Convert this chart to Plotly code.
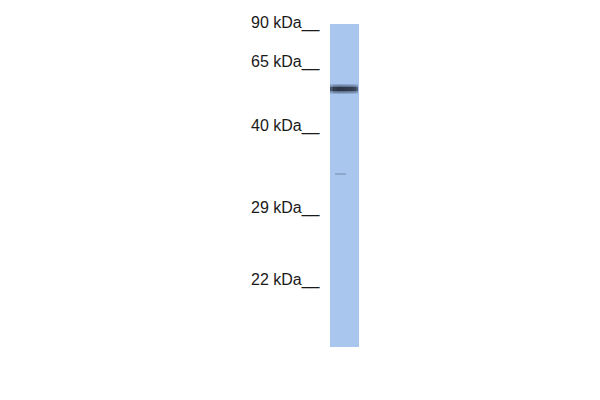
import plotly.graph_objs as go

# marker ladder (kDa) and where each one ran on the membrane (px from top)
marker_kda = [90, 65, 40, 29, 22]
marker_pos = [23, 62, 126, 208, 280]

# the single sample lane
lane_left = 330
lane_right = 359
lane_top = 24
lane_bottom = 347

# detected band: position along the lane and strength profile across it
band_pos = 89
band_x = [330, 333, 337, 341, 345, 349, 353, 356, 358]
band_strength = [0.45, 0.85, 1.0, 1.0, 0.95, 0.9, 0.85, 0.7, 0.4]

# faint smear lower down the lane
smear_pos = 174
smear_x = [335, 339, 343, 346]

LANE_COLOR = '#a8c6ee'
BAND_COLOR = '#27303e'

traces = []
# lane
traces.append(go.Bar(x=[(lane_left + lane_right) / 2], y=[lane_bottom - lane_top], base=[lane_top],
                     width=[lane_right - lane_left], marker=dict(color=LANE_COLOR, line=dict(width=0)),
                     hoverinfo='skip', showlegend=False))
# band: soft halo, then core segment by segment
for i in range(len(band_x) - 1):
    s = (band_strength[i] + band_strength[i + 1]) / 2
    traces.append(go.Scatter(x=band_x[i:i + 2], y=[band_pos, band_pos], mode='lines',
                             line=dict(color='rgba(45,60,85,1)', width=10), opacity=0.25 * s,
                             hoverinfo='skip', showlegend=False))
    traces.append(go.Scatter(x=band_x[i:i + 2], y=[band_pos, band_pos], mode='lines',
                             line=dict(color='rgba(40,52,72,1)', width=7), opacity=0.45 * s,
                             hoverinfo='skip', showlegend=False))
    traces.append(go.Scatter(x=band_x[i:i + 2], y=[band_pos, band_pos], mode='lines',
                             line=dict(color=BAND_COLOR, width=4), opacity=0.9 * s,
                             hoverinfo='skip', showlegend=False))
traces.append(go.Scatter(x=smear_x, y=[smear_pos] * len(smear_x), mode='lines',
                         line=dict(color='rgba(70,85,110,0.35)', width=1.5),
                         hoverinfo='skip', showlegend=False))

annotations = []
for kda, pos in zip(marker_kda, marker_pos):
    annotations.append(dict(x=323, y=pos, xref='x', yref='y', text='%d kDa__' % kda,
                            showarrow=False, xanchor='right', yanchor='middle',
                            font=dict(family='Liberation Sans, Arial', size=16, color='#1a1a1a')))

# ranges shifted by 8px to cancel the page's body margin
layout = go.Layout(width=600, height=400, margin=dict(l=0, r=0, t=0, b=0),
                   paper_bgcolor='white', plot_bgcolor='white',
                   xaxis=dict(range=[8, 608], visible=False, fixedrange=True),
                   yaxis=dict(range=[408, 8], visible=False, fixedrange=True),
                   annotations=annotations, showlegend=False, bargap=0)
fig = go.Figure(data=traces, layout=layout)
fig.write_html("out.html")
